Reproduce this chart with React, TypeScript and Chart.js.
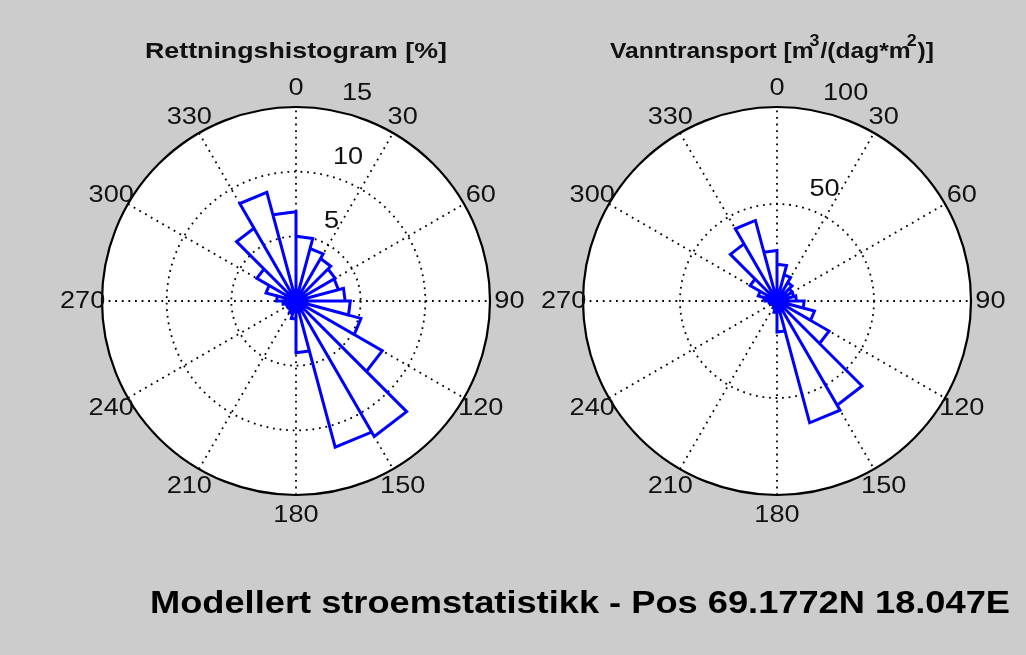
import React, { useEffect, useRef } from "react";
import { Chart, registerables } from "chart.js";

Chart.register(...registerables);

// ---- data ----
const binStartDeg = [0, 15, 30, 45, 60, 75, 90, 105, 120, 135, 150, 165, 180, 195, 210, 225, 240, 255, 270, 285, 300, 315, 330, 345];
const binWidthDeg = 15;
const directionPercent = [5.0, 4.2, 3.8, 3.5, 3.4, 3.8, 4.2, 5.2, 7.7, 12.1, 11.7, 4.0, 1.4, 1.0, 0.8, 0.7, 0.8, 1.0, 1.5, 2.4, 3.5, 6.5, 8.7, 6.9];
const transportValues = [19, 14, 11, 9, 9, 10, 14, 20, 31, 62, 65, 16, 6, 4, 3, 3, 3, 4, 7, 10, 16, 34, 43, 26];
const angleTickDeg = [0, 30, 60, 90, 120, 150, 180, 210, 240, 270, 300, 330];
const angleTickLabels = ["0", "30", "60", "90", "120", "150", "180", "210", "240", "270", "300", "330"];
const ringTicksPercent = [5, 10, 15];
const ringTicksTransport = [50, 100];
const titleLeft = "Rettningshistogram [%]";
const titleRightParts = [
  { t: "Vanntransport [m", sup: false },
  { t: "3", sup: true },
  { t: "/(dag*m", sup: false },
  { t: "2", sup: true },
  { t: ")]", sup: false },
];
const captionText = "Modellert stroemstatistikk - Pos 69.1772N 18.047E";

// ---- layout constants ----
const W = 1026;
const H = 655;
const HALF = 240; // half size of square chart area
const R_PX = 194; // outer circle radius in px
const FONT = "'Liberation Sans', Arial, Helvetica, sans-serif";

function rosePoints(values: number[]) {
  const pts: { x: number; y: number }[] = [{ x: 0, y: 0 }];
  values.forEach((r, i) => {
    const a1 = (binStartDeg[i] * Math.PI) / 180;
    const a2 = ((binStartDeg[i] + binWidthDeg) * Math.PI) / 180;
    pts.push({ x: r * Math.sin(a1), y: r * Math.cos(a1) });
    pts.push({ x: r * Math.sin(a2), y: r * Math.cos(a2) });
    pts.push({ x: 0, y: 0 });
  });
  return pts;
}

function stretchText(ctx: CanvasRenderingContext2D, text: string, x: number, y: number, sx: number, align: CanvasTextAlign) {
  ctx.save();
  ctx.translate(x, y);
  ctx.scale(sx, 1);
  ctx.textAlign = align;
  ctx.fillText(text, 0, 0);
  ctx.restore();
}

function makeFramePlugin(rmax: number, rings: number[], drawTitle: (ctx: CanvasRenderingContext2D, cx: number, cy: number) => void, extra?: (ctx: CanvasRenderingContext2D) => void) {
  return {
    id: "polarFrame",
    beforeDatasetsDraw(chart: any) {
      const ctx: CanvasRenderingContext2D = chart.ctx;
      const xs = chart.scales.x;
      const ys = chart.scales.y;
      const cx = xs.getPixelForValue(0);
      const cy = ys.getPixelForValue(0);
      const rad = (r: number) => xs.getPixelForValue(r) - cx;
      ctx.save();
      // white disk
      ctx.beginPath();
      ctx.arc(cx, cy, rad(rmax), 0, Math.PI * 2);
      ctx.fillStyle = "#ffffff";
      ctx.fill();
      // dotted grid
      ctx.strokeStyle = "#000000";
      ctx.lineWidth = 1.8;
      ctx.setLineDash([1.8, 4.8]);
      rings.forEach((r) => {
        if (r >= rmax) return;
        ctx.beginPath();
        ctx.arc(cx, cy, rad(r), 0, Math.PI * 2);
        ctx.stroke();
      });
      for (let d = 0; d < 180; d += 30) {
        const a = (d * Math.PI) / 180;
        ctx.beginPath();
        ctx.moveTo(xs.getPixelForValue(-rmax * Math.sin(a)), ys.getPixelForValue(-rmax * Math.cos(a)));
        ctx.lineTo(xs.getPixelForValue(rmax * Math.sin(a)), ys.getPixelForValue(rmax * Math.cos(a)));
        ctx.stroke();
      }
      ctx.setLineDash([]);
      // outer circle
      ctx.lineWidth = 2.2;
      ctx.beginPath();
      ctx.arc(cx, cy, rad(rmax), 0, Math.PI * 2);
      ctx.stroke();
      ctx.restore();
    },
    afterDraw(chart: any) {
      const ctx: CanvasRenderingContext2D = chart.ctx;
      const xs = chart.scales.x;
      const ys = chart.scales.y;
      const cx = xs.getPixelForValue(0);
      const cy = ys.getPixelForValue(0);
      ctx.save();
      ctx.fillStyle = "#111111";
      ctx.font = `23px ${FONT}`;
      ctx.textBaseline = "middle";
      angleTickDeg.forEach((d, i) => {
        const a = (d * Math.PI) / 180;
        const x = xs.getPixelForValue(1.1 * rmax * Math.sin(a));
        const y = ys.getPixelForValue(1.1 * rmax * Math.cos(a));
        stretchText(ctx, angleTickLabels[i], x, y + 1, 1.18, "center");
      });
      ctx.textBaseline = "alphabetic";
      const a8 = (8 * Math.PI) / 180;
      rings.forEach((r) => {
        const x = xs.getPixelForValue(r * Math.sin(a8));
        const y = ys.getPixelForValue(r * Math.cos(a8));
        stretchText(ctx, String(r), x + 19, y - 9, 1.18, "left");
      });
      drawTitle(ctx, cx, cy);
      if (extra) extra(ctx);
      ctx.restore();
    },
  };
}

function drawLeftTitle(ctx: CanvasRenderingContext2D, cx: number, cy: number) {
  ctx.font = `bold 22px ${FONT}`;
  ctx.textBaseline = "alphabetic";
  ctx.fillStyle = "#111111";
  const w = ctx.measureText(titleLeft).width;
  stretchText(ctx, titleLeft, cx, cy - 243, 302 / w, "center");
}

function drawRightTitle(ctx: CanvasRenderingContext2D, cx: number, cy: number) {
  ctx.textBaseline = "alphabetic";
  ctx.fillStyle = "#111111";
  const mainFont = `bold 22px ${FONT}`;
  const supFont = `bold 16px ${FONT}`;
  let total = 0;
  const widths = titleRightParts.map((p) => {
    ctx.font = p.sup ? supFont : mainFont;
    const w = ctx.measureText(p.t).width;
    total += w;
    return w;
  });
  const target = 330;
  const sx = target / total;
  let x = cx - target / 2 - 2;
  const base = cy - 243;
  titleRightParts.forEach((p, i) => {
    ctx.font = p.sup ? supFont : mainFont;
    stretchText(ctx, p.t, p.sup ? x - 4 : x, p.sup ? base - 12 : base, sx, "left");
    x += widths[i] * sx - (p.sup ? 3 : 0);
  });
}

function drawCaption(ctx: CanvasRenderingContext2D) {
  ctx.font = `bold 32px ${FONT}`;
  ctx.textBaseline = "alphabetic";
  ctx.fillStyle = "#000000";
  const w = ctx.measureText(captionText).width;
  stretchText(ctx, captionText, 150, 613, 860 / w, "left");
}

function buildConfig(values: number[], rmax: number, centerX: number, centerY: number, plugin: any) {
  const L = (rmax * HALF) / R_PX;
  return {
    type: "scatter",
    data: {
      datasets: [
        {
          data: rosePoints(values),
          showLine: true,
          borderColor: "#0000ff",
          backgroundColor: "#0000ff",
          borderWidth: 3,
          borderJoinStyle: "miter",
          pointRadius: 0,
          pointHoverRadius: 0,
          fill: false,
          tension: 0,
        },
      ],
    },
    options: {
      responsive: false,
      animation: false,
      events: [],
      layout: {
        padding: {
          left: centerX - HALF,
          top: centerY - HALF,
          right: W - centerX - HALF,
          bottom: H - centerY - HALF,
        },
      },
      scales: {
        x: { type: "linear", min: -L, max: L, display: false },
        y: { type: "linear", min: -L, max: L, display: false },
      },
      plugins: {
        legend: { display: false },
        tooltip: { enabled: false },
        title: { display: false },
      },
    },
    plugins: [plugin],
  } as any;
}

export default function App() {
  const leftRef = useRef<HTMLCanvasElement | null>(null);
  const rightRef = useRef<HTMLCanvasElement | null>(null);

  useEffect(() => {
    if (!leftRef.current || !rightRef.current) return;
    const left = new Chart(
      leftRef.current,
      buildConfig(directionPercent, 15, 296, 301, makeFramePlugin(15, ringTicksPercent, drawLeftTitle))
    );
    const right = new Chart(
      rightRef.current,
      buildConfig(transportValues, 100, 777, 301, makeFramePlugin(100, ringTicksTransport, drawRightTitle, drawCaption))
    );
    return () => {
      left.destroy();
      right.destroy();
    };
  }, []);

  const canvasStyle: React.CSSProperties = { position: "absolute", left: 0, top: 0, width: W, height: H };
  return (
    <div style={{ position: "absolute", left: 0, top: 0, width: W, height: H, background: "#cccccc", overflow: "hidden" }}>
      <canvas ref={leftRef} width={W} height={H} style={canvasStyle} />
      <canvas ref={rightRef} width={W} height={H} style={canvasStyle} />
    </div>
  );
}
